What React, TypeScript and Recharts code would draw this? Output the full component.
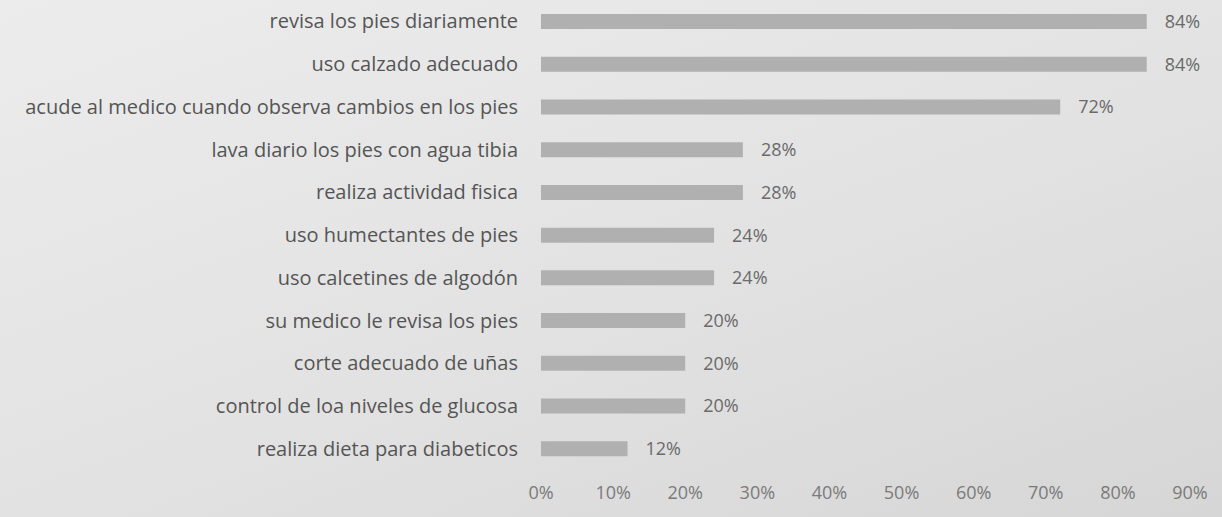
import React from 'react';
import { BarChart, Bar, XAxis, YAxis, LabelList } from 'recharts';

const categories = [
  'revisa los pies diariamente',
  'uso calzado adecuado',
  'acude al medico cuando observa cambios en los pies',
  'lava diario los pies con agua tibia',
  'realiza actividad fisica',
  'uso humectantes de pies',
  'uso calcetines de algodón',
  'su medico le revisa los pies',
  'corte adecuado de uñas',
  'control de loa niveles de glucosa',
  'realiza dieta para diabeticos',
];

const percentages = [84, 84, 72, 28, 28, 24, 24, 20, 20, 20, 12];

const xTicks = [0, 10, 20, 30, 40, 50, 60, 70, 80, 90];

const App: React.FC = () => {
  const data = categories.map((name, i) => ({ name, value: percentages[i] }));

  return (
    <div
      style={{
        position: 'absolute',
        left: 0,
        top: 0,
        width: 1222,
        height: 517,
        background: 'linear-gradient(160deg, #ececec 0%, #e2e2e2 55%, #d6d6d6 100%)',
        fontFamily: '"Open Sans", sans-serif',
      }}
    >
      <BarChart
        width={1222}
        height={517}
        data={data}
        layout="vertical"
        margin={{ top: 0, right: 32, bottom: 0, left: 0 }}
      >
        <XAxis
          type="number"
          domain={[0, 90]}
          ticks={xTicks}
          tickFormatter={(v: number) => `${v}%`}
          axisLine={false}
          tickLine={false}
          height={47}
          tickMargin={10}
          tick={{ fill: '#7a7a7a', fontSize: 18 }}
        />
        <YAxis
          type="category"
          dataKey="name"
          width={541}
          axisLine={false}
          tickLine={false}
          tickMargin={17}
          interval={0}
          tick={{ fill: '#555555', fontSize: 20 }}
        />
        <Bar dataKey="value" fill="#b0b0b0" barSize={15} isAnimationActive={false}>
          <LabelList
            dataKey="value"
            position="right"
            offset={18}
            formatter={(v: number) => `${v}%`}
            style={{ fill: '#6a6a6a', fontSize: 18 }}
          />
        </Bar>
      </BarChart>
    </div>
  );
};

export default App;
